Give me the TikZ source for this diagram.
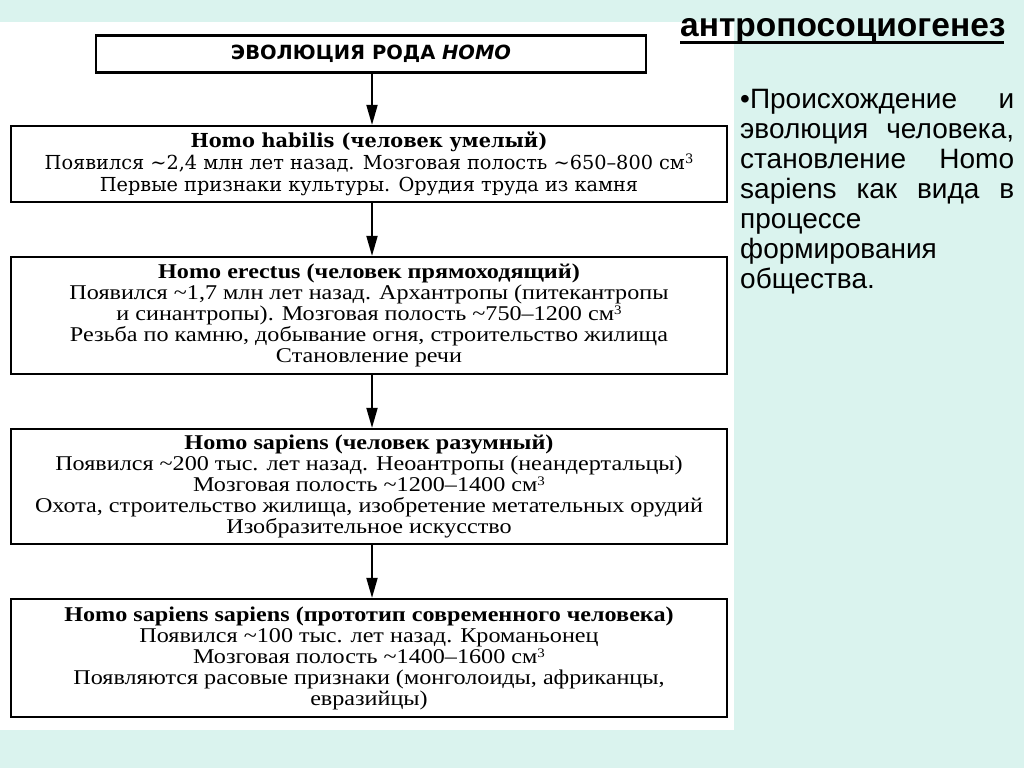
\documentclass[tikz,border=0pt]{standalone}
\usepackage{fontspec}
\setmainfont{Liberation Sans}
\newfontfamily\boxfont[Ligatures=TeX, FakeStretch=1.15]{Liberation Serif}
\newfontfamily\wideserif[Ligatures=TeX]{DejaVu Serif}
\newfontfamily\headfont{DejaVu Sans}
\usetikzlibrary{arrows.meta}
\definecolor{mint}{RGB}{218,243,238}
\newcommand{\cmcube}{см\smash{\raisebox{6pt}{\fontsize{13}{13}\selectfont 3}}}
\tikzset{
  stage/.style = {draw, line width=2.2pt, minimum width=716pt, inner sep=0pt, align=center,
                  font=\boxfont\fontsize{21}{21}\selectfont},
  arr/.style = {line width=1.8pt, -{Triangle[length=20pt,width=11pt]}},
}
\begin{document}
\begin{tikzpicture}[x=1pt, y=-1pt]
        \useasboundingbox (0,0) rectangle (1024,768);
        \fill[color = mint] (0,0) rectangle (1024,768);
        \fill[color = white] (0,22) rectangle (734,730);
        \node[draw, line width=2.2pt, minimum width=550pt, minimum height=37pt, inner sep=0pt,
              font=\headfont\bfseries\fontsize{19.5}{19.5}\selectfont] (rod) at (371,54)
              {ЭВОЛЮЦИЯ РОДА \textit{НОМО}};
        \node[stage, minimum height=76pt, font=\wideserif\fontsize{19.3}{22}\selectfont] (habilis) at (369,164)
              {\textbf{Homo habilis (человек умелый)}\\
               Появился \textasciitilde2,4 млн лет назад. Мозговая полость \textasciitilde650--800 \cmcube\\
               Первые признаки культуры. Орудия труда из камня};
        \node[stage, minimum height=117pt] (erectus) at (369,315.5)
              {\textbf{Homo erectus (человек прямоходящий)}\\
               Появился \textasciitilde1,7 млн лет назад. Архантропы (питекантропы\\
               и синантропы). Мозговая полость \textasciitilde750--1200 \cmcube\\
               Резьба по камню, добывание огня, строительство жилища\\
               Становление речи};
        \node[stage, minimum height=115pt] (sapiens) at (369,486.5)
              {\textbf{Homo sapiens (человек разумный)}\\
               Появился \textasciitilde200 тыс. лет назад. Неоантропы (неандертальцы)\\
               Мозговая полость \textasciitilde1200--1400 \cmcube\\
               Охота, строительство жилища, изобретение метательных орудий\\
               Изобразительное искусство};
        \node[stage, minimum height=118pt] (sapsap) at (369,658)
              {\textbf{Homo sapiens sapiens (прототип современного человека)}\\
               Появился \textasciitilde100 тыс. лет назад. Кроманьонец\\
               Мозговая полость \textasciitilde1400--1600 \cmcube\\
               Появляются расовые признаки (монголоиды, африканцы,\\
               евразийцы)};
        \draw[arr] (rod.south -| 372,0) -- (habilis.north -| 372,0);
        \draw[arr] (habilis.south -| 372,0) -- (erectus.north -| 372,0);
        \draw[arr] (erectus.south -| 372,0) -- (sapiens.north -| 372,0);
        \draw[arr] (sapiens.south -| 372,0) -- (sapsap.north -| 372,0);
        \node[anchor=base west, inner sep=0pt, font=\bfseries\fontsize{33.5}{33.5}\selectfont] (antro) at (680,37)
              {антропосоциогенез};
        \draw[line width=2.8pt] (680,42.5) -- (1004,42.5);
        \node[anchor=base west, inner sep=0pt, text width=274pt, align=justify,
              font=\fontsize{28}{30}\selectfont] (defin) at (740,108)
              {\hyphenpenalty=10000 \textbullet Происхождение и\linebreak
               эволюция человека,\linebreak
               становление Homo\linebreak
               sapiens как вида в\linebreak
               процессе\linebreak
               формирования\linebreak
               общества.};
\end{tikzpicture}
\end{document}
